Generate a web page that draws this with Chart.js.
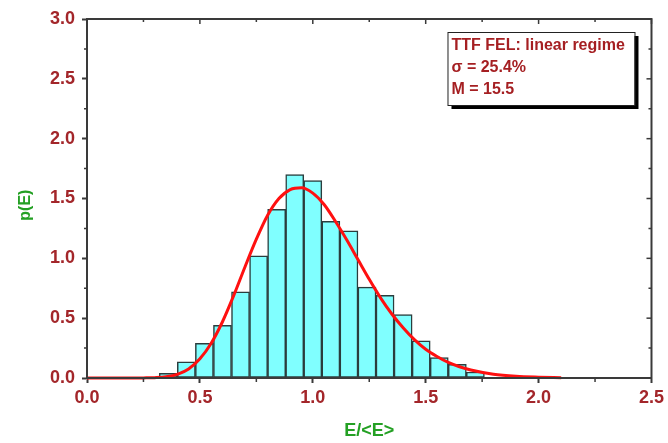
<!DOCTYPE html>
<html>
<head>
<meta charset="utf-8">
<script src="https://cdn.jsdelivr.net/npm/chart.js@4"></script>
<style>
  html, body { margin: 0; padding: 0; background: #fff; }
  #wrap { width: 668px; height: 443px; }
</style>
</head>
<body>
<div id="wrap"><canvas id="myChart" width="668" height="443"></canvas></div>
<script>
// histogram bins (width 0.08), centre and height
const binCenters = [0.36, 0.44, 0.52, 0.60, 0.68, 0.76, 0.84, 0.92, 1.00, 1.08, 1.16, 1.24, 1.32, 1.40, 1.48, 1.56, 1.64, 1.72];
const binHeights = [0.04, 0.135, 0.29, 0.44, 0.72, 1.02, 1.41, 1.70, 1.65, 1.31, 1.23, 0.76, 0.69, 0.53, 0.31, 0.17, 0.115, 0.05];

// red fit curve
const fitX = [0, 0.1, 0.2, 0.25, 0.3, 0.35, 0.4, 0.45, 0.5, 0.55, 0.6, 0.65, 0.7, 0.75, 0.8, 0.85, 0.9, 0.95, 1.0, 1.05, 1.1, 1.15, 1.2, 1.25, 1.3, 1.35, 1.4, 1.45, 1.5, 1.55, 1.6, 1.65, 1.7, 1.8, 1.9, 2.0, 2.1];
const fitY = [0, 0, 0, 0.001, 0.003, 0.01, 0.03, 0.075, 0.16, 0.29, 0.47, 0.69, 0.93, 1.16, 1.36, 1.50, 1.575, 1.59, 1.545, 1.45, 1.31, 1.155, 0.99, 0.825, 0.67, 0.535, 0.42, 0.32, 0.24, 0.18, 0.13, 0.094, 0.067, 0.032, 0.015, 0.007, 0.002];

const xRange = [0, 2.5];
const yRange = [0, 3.0];
const majorStep = 0.5;
const minorStep = 0.25;
const noteLines = ['TTF FEL: linear regime', 'σ = 25.4%', 'M = 15.5'];

const axisRed = '#a3262a';
const titleGreen = '#24a024';
const frameColor = '#3a3a3a';
const fontFam = '"Liberation Sans", Arial, sans-serif';

const histData = binCenters.map((c, i) => ({ x: c, y: binHeights[i] }));
const fitData = fitX.map((v, i) => ({ x: v, y: fitY[i] }));

// frame, minor ticks, inner ticks and the note box
const framePlugin = {
    id: 'framePlugin',
    afterDraw(chart) {
        const { ctx, chartArea: a, scales } = chart;
        const xs = scales.x, ys = scales.y;
        ctx.save();
        ctx.strokeStyle = frameColor;
        ctx.lineWidth = 2;
        ctx.strokeRect(a.left, a.top, a.right - a.left, a.bottom - a.top);

        ctx.lineWidth = 1.5;
        const nx = Math.round((xRange[1] - xRange[0]) / minorStep);
        for (let i = 0; i <= nx; i++) {
            const v = xRange[0] + i * minorStep;
            const px = xs.getPixelForValue(v);
            const major = i % 2 === 0;
            ctx.beginPath();
            ctx.moveTo(px, a.top);
            ctx.lineTo(px, a.top + (major ? 5 : 3));
            if (!major) {
                ctx.moveTo(px, a.bottom);
                ctx.lineTo(px, a.bottom + 4);
            }
            ctx.stroke();
        }
        const ny = Math.round((yRange[1] - yRange[0]) / minorStep);
        for (let i = 0; i <= ny; i++) {
            const v = yRange[0] + i * minorStep;
            const py = ys.getPixelForValue(v);
            const major = i % 2 === 0;
            ctx.beginPath();
            ctx.moveTo(a.right, py);
            ctx.lineTo(a.right - (major ? 5 : 3), py);
            if (!major) {
                ctx.moveTo(a.left, py);
                ctx.lineTo(a.left - 3, py);
            }
            ctx.stroke();
        }

        // note box with drop shadow
        const bx = a.right - 204, by = a.top + 13, bw = 187, bh = 73;
        ctx.fillStyle = '#000';
        ctx.fillRect(bx + 4, by + 4, bw, bh);
        ctx.fillStyle = '#fff';
        ctx.fillRect(bx, by, bw, bh);
        ctx.lineWidth = 1;
        ctx.strokeStyle = '#222';
        ctx.strokeRect(bx + 0.5, by + 0.5, bw, bh);
        ctx.fillStyle = '#a51f22';
        ctx.font = 'bold 16px ' + fontFam;
        ctx.textBaseline = 'middle';
        noteLines.forEach((t, i) => {
            ctx.fillText(t, bx + 4, by + 14 + i * 22);
        });
        ctx.restore();
    }
};

const ctx = document.getElementById('myChart');
new Chart(ctx, {
    type: 'bar',
    data: {
        datasets: [{
            type: 'line',
            label: 'fit',
            data: fitData,
            borderColor: '#ff1010',
            borderWidth: 3,
            pointRadius: 0,
            cubicInterpolationMode: 'monotone',
            fill: false,
            clip: 4,
            order: 0
        },
        {
            type: 'bar',
            label: 'p(E)',
            data: histData,
            backgroundColor: '#80ffff',
            borderColor: '#2b3d3d',
            borderWidth: 1.5,
            borderSkipped: false,
            barPercentage: 1,
            categoryPercentage: 1,
            order: 1
        }]
    },
    options: {
        responsive: false,
        animation: false,
        events: [],
        layout: { padding: { top: 19, right: 16, left: 0, bottom: 0 } },
        plugins: {
            legend: { display: false },
            tooltip: { enabled: false },
            title: { display: false }
        },
        scales: {
            x: {
                type: 'linear',
                min: xRange[0],
                max: xRange[1],
                offset: false,
                afterFit: (s) => { s.height = 65; },
                grid: { display: true, drawOnChartArea: false, tickLength: 5, tickColor: frameColor, tickWidth: 2, offset: false },
                border: { display: true, color: frameColor, width: 2 },
                ticks: {
                    stepSize: majorStep,
                    autoSkip: false,
                    maxRotation: 0,
                    padding: 4,
                    color: axisRed,
                    font: { family: fontFam, size: 18, weight: 'bold' },
                    callback: (v) => v.toFixed(1)
                },
                title: {
                    display: true,
                    text: 'E/<E>',
                    color: titleGreen,
                    font: { family: fontFam, size: 18, weight: 'bold' },
                    padding: { top: 0, bottom: 1 }
                }
            },
            y: {
                min: yRange[0],
                max: yRange[1],
                afterFit: (s) => { s.width = 87; },
                grid: { display: true, drawOnChartArea: false, tickLength: 5, tickColor: frameColor, tickWidth: 2 },
                border: { display: true, color: frameColor, width: 2 },
                ticks: {
                    stepSize: majorStep,
                    padding: 7,
                    color: axisRed,
                    font: { family: fontFam, size: 18, weight: 'bold' },
                    callback: (v) => v.toFixed(1)
                },
                title: {
                    display: true,
                    text: 'p(E)   ',
                    color: titleGreen,
                    font: { family: fontFam, size: 16, weight: 'bold' },
                    padding: { top: 16, bottom: 0 }
                }
            }
        }
    },
    plugins: [framePlugin]
});
</script>
</body>
</html>
